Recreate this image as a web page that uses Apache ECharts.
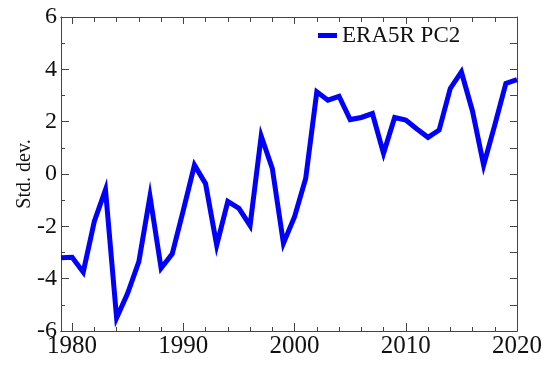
<!DOCTYPE html>
<html>
<head>
<meta charset="utf-8">
<script src="https://cdn.jsdelivr.net/npm/echarts@6/dist/echarts.min.js"></script>
<style>
  html, body { margin: 0; padding: 0; background: #fff; }
  #pcChart { width: 556px; height: 365px; }
</style>
</head>
<body>
<div id="pcChart"></div>
<script>
  // yearly values
  var years = [1979, 1980, 1981, 1982, 1983, 1984, 1985, 1986, 1987, 1988,
    1989, 1990, 1991, 1992, 1993, 1994, 1995, 1996, 1997, 1998,
    1999, 2000, 2001, 2002, 2003, 2004, 2005, 2006, 2007, 2008,
    2009, 2010, 2011, 2012, 2013, 2014, 2015, 2016, 2017, 2018,
    2019, 2020]
  var pc2 = [-3.2, -3.18, -3.75, -1.8, -0.6, -5.5, -4.55, -3.35, -0.85, -3.6,
    -3.05, -1.38, 0.34, -0.37, -2.72, -1.05, -1.31, -1.97, 1.45, 0.21,
    -2.65, -1.63, -0.17, 3.14, 2.82, 2.97, 2.08, 2.16, 2.31, 0.79,
    2.16, 2.06, 1.72, 1.4, 1.68, 3.27, 3.9, 2.4, 0.34, 1.87,
    3.46, 3.61]
  var yearTicks = [1980, 1990, 2000, 2010, 2020]
  var minorYears = [1982, 1984, 1986, 1988, 1992, 1994, 1996, 1998, 2002, 2004,
    2006, 2008, 2012, 2014, 2016, 2018]

  var points = []
  for (var i = 0; i < years.length; i++) {
    points.push([years[i], pc2[i]])
  }

  var serif = 'Liberation Serif'
  var axisCol = '#444'

  function xAx (pos, labels, ticks, len) {
    return {
      type: 'value',
      position: pos,
      min: 1979,
      max: 2020,
      splitLine: { show: false },
      axisLine: { show: true, onZero: false, lineStyle: { color: axisCol, width: 1 } },
      axisTick: { show: true, inside: true, length: len, customValues: ticks,
        lineStyle: { color: axisCol } },
      axisLabel: labels ? {
        show: true, customValues: yearTicks, margin: 3,
        fontFamily: serif, fontSize: 25, color: '#111',
        formatter: function (v) { return String(v) }
      } : { show: false }
    }
  }

  function yAx (pos, labels, len, minorLen) {
    return {
      type: 'value',
      position: pos,
      min: -6,
      max: 6,
      interval: 2,
      name: labels ? 'Std. dev.' : '',
      nameLocation: 'middle',
      nameGap: 26,
      nameMoveOverlap: false,
      nameTextStyle: { fontFamily: serif, fontSize: 20, color: '#111' },
      splitLine: { show: false },
      axisLine: { show: true, onZero: false, lineStyle: { color: axisCol, width: 1 } },
      axisTick: { show: true, inside: true, length: len, lineStyle: { color: axisCol } },
      minorTick: { show: true, splitNumber: 2, length: minorLen, lineStyle: { color: axisCol } },
      minorSplitLine: { show: false },
      axisLabel: labels ? {
        show: true, margin: 4, fontFamily: serif, fontSize: 24, color: '#111',
        formatter: function (v) { return String(v) }
      } : { show: false }
    }
  }

  var myChart = echarts.init(document.getElementById('pcChart'), null, { renderer: 'canvas' })
  myChart.setOption({
    animation: false,
    backgroundColor: '#fff',
    grid: {
      left: 61,
      right: 39,
      top: 17,
      bottom: 34
    },
    legend: {
      data: ['ERA5R PC2'],
      left: 313,
      top: 19,
      icon: 'rect',
      itemWidth: 19,
      itemHeight: 5,
      itemGap: 7,
      textStyle: { fontFamily: serif, fontSize: 23, color: '#111' }
    },
    xAxis: [
      xAx('bottom', true, yearTicks, 8),
      xAx('bottom', false, minorYears, 4),
      xAx('top', false, minorYears, 5),
      xAx('top', false, yearTicks, 7)
    ],
    yAxis: [
      yAx('left', true, 8, 4),
      yAx('right', false, 7, 7)
    ],
    series: [
      {
        name: 'ERA5R PC2',
        type: 'line',
        xAxisIndex: 0,
        yAxisIndex: 0,
        data: points,
        showSymbol: false,
        symbol: 'none',
        lineStyle: { color: '#0000ff', width: 5, join: 'miter' },
        itemStyle: { color: '#0000ff' }
      }
    ]
  })
</script>
</body>
</html>
